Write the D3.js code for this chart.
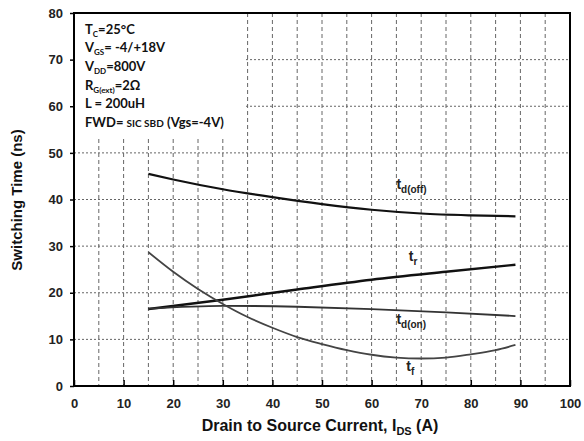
<!DOCTYPE html>
<html>
<head>
<meta charset="utf-8">
<script src="https://cdn.jsdelivr.net/npm/d3@7"></script>
<style>
body { margin: 0; background: #fff; }
text { font-family: "Liberation Sans", Arial, sans-serif; }
</style>
</head>
<body>
<div class="featured"></div>
<script>
// values
var xTicks = [0, 10, 20, 30, 40, 50, 60, 70, 80, 90, 100];
var yTicks = [0, 10, 20, 30, 40, 50, 60, 70, 80];

var tdOffX = [15, 20, 30, 40, 50, 60, 70, 80, 89];
var tdOffY = [45.5, 44.3, 42.2, 40.5, 39.0, 37.8, 37.0, 36.6, 36.4];

var trX = [15, 30, 45, 60, 75, 89];
var trY = [16.5, 18.5, 20.7, 22.8, 24.5, 26.0];

var tdOnX = [15, 30, 45, 60, 75, 89];
var tdOnY = [16.6, 17.2, 17.0, 16.5, 15.8, 15.0];

var tfX = [15, 20, 25, 30, 35, 40, 45, 50, 55, 60, 65, 70, 75, 80, 85, 89];
var tfY = [28.7, 24.5, 20.8, 17.6, 14.8, 12.5, 10.5, 9.0, 7.7, 6.7, 6.1, 5.9, 6.1, 6.8, 7.7, 8.8];

var notes = [
  ["T", "C", "=25°C"],
  ["V", "GS", "= -4/+18V"],
  ["V", "DD", "=800V"],
  ["R", "G(ext)", "=2Ω"],
  ["L = 200uH", "", ""]
];

function zip(xs, ys) { return xs.map(function(x, i) { return {x: x, y: ys[i]}; }); }

var W = 584, H = 441;
var L = 74, R = 570, T = 13, B = 386;

var svg = d3.select(".featured").append("svg").attr("width", W).attr("height", H);

var x = d3.scaleLinear().domain([0, 100]).range([L, R]);
var y = d3.scaleLinear().domain([0, 80]).range([B, T]);

// grid
var vGrid = d3.range(5, 100, 5);
svg.selectAll(".vg").data(vGrid).enter().append("line")
  .attr("x1", function(d) { return x(d); }).attr("x2", function(d) { return x(d); })
  .attr("y1", T).attr("y2", B)
  .attr("stroke", "#666").attr("stroke-width", 1).attr("stroke-dasharray", "4,3");
svg.selectAll(".hg").data(d3.range(10, 80, 10)).enter().append("line")
  .attr("x1", L).attr("x2", R)
  .attr("y1", function(d) { return y(d); }).attr("y2", function(d) { return y(d); })
  .attr("stroke", "#666").attr("stroke-width", 1).attr("stroke-dasharray", "2,2");

// white box behind notes
svg.append("rect").attr("x", L + 1).attr("y", T + 1)
  .attr("width", x(34.5) - L - 1).attr("height", y(53.5) - T - 1).attr("fill", "#fff");

// frame
svg.append("rect").attr("x", L).attr("y", T).attr("width", R - L).attr("height", B - T)
  .attr("fill", "none").attr("stroke", "#000").attr("stroke-width", 2);

// axes
var xAxis = svg.append("g").attr("transform", "translate(0," + B + ")")
  .call(d3.axisBottom(x).tickValues(xTicks).tickSize(-6).tickPadding(13));
var yAxis = svg.append("g").attr("transform", "translate(" + L + ",0)")
  .call(d3.axisLeft(y).tickValues(yTicks).tickSize(4).tickPadding(7));
[xAxis, yAxis].forEach(function(a) {
  a.select(".domain").remove();
  a.selectAll("line").attr("stroke", "#000").attr("stroke-width", 1.5);
  a.selectAll("text").attr("font-size", 13).attr("font-weight", "bold").attr("fill", "#222")
    .style("font-family", "'Liberation Sans', Arial, sans-serif");
});

// curves
var line = d3.line()
  .x(function(d) { return x(d.x); })
  .y(function(d) { return y(d.y); })
  .curve(d3.curveMonotoneX);

var series = [
  {d: zip(tdOffX, tdOffY), c: "#111", w: 2.2},
  {d: zip(trX, trY), c: "#111", w: 2.4},
  {d: zip(tdOnX, tdOnY), c: "#333", w: 1.8},
  {d: zip(tfX, tfY), c: "#444", w: 1.8}
];
series.forEach(function(s) {
  svg.append("path").attr("d", line(s.d)).attr("fill", "none")
    .attr("stroke", s.c).attr("stroke-width", s.w);
});

// curve labels
var labs = [["d(off)", 65, 42.3], ["r", 67.5, 26.8], ["d(on)", 65, 13.3], ["f", 67, 3.3]];
labs.forEach(function(l) {
  var t = svg.append("text").attr("x", x(l[1])).attr("y", y(l[2]))
    .attr("font-size", 14).attr("font-weight", "bold").attr("fill", "#222");
  t.append("tspan").text("t");
  t.append("tspan").attr("dy", 4).attr("font-size", 10).text(l[0]);
});

// notes
var noteFont = "Lato, 'Open Sans', sans-serif";
notes.forEach(function(n, i) {
  var t = svg.append("text").attr("x", 85).attr("y", [34, 52, 71, 90, 108][i])
    .style("font-family", noteFont)
    .attr("font-size", 13).attr("font-weight", "bold").attr("fill", "#111");
  t.append("tspan").text(n[0]);
  if (n[1]) {
    t.append("tspan").attr("dy", 3).attr("font-size", 8).text(n[1]);
    t.append("tspan").attr("dy", -3).text(n[2]);
  }
});
var fwd = svg.append("text").attr("x", 85).attr("y", 127).style("font-family", noteFont)
  .attr("font-size", 13).attr("font-weight", "bold").attr("fill", "#111");
fwd.append("tspan").text("FWD= ");
fwd.append("tspan").attr("font-size", 10).text("SIC SBD");
fwd.append("tspan").text(" (Vgs=-4V)");

// axis titles
var xt = svg.append("text").attr("x", 320).attr("y", 431).attr("text-anchor", "middle")
  .attr("font-size", 16).attr("font-weight", "bold").attr("fill", "#111");
xt.append("tspan").text("Drain to Source Current, I");
xt.append("tspan").attr("dy", 4).attr("font-size", 11).text("DS");
xt.append("tspan").attr("dy", -4).text(" (A)");

svg.append("text").attr("transform", "translate(22,200) rotate(-90)")
  .attr("text-anchor", "middle").attr("font-size", 15).attr("font-weight", "bold")
  .attr("fill", "#111").text("Switching Time (ns)");
</script>
</body>
</html>
